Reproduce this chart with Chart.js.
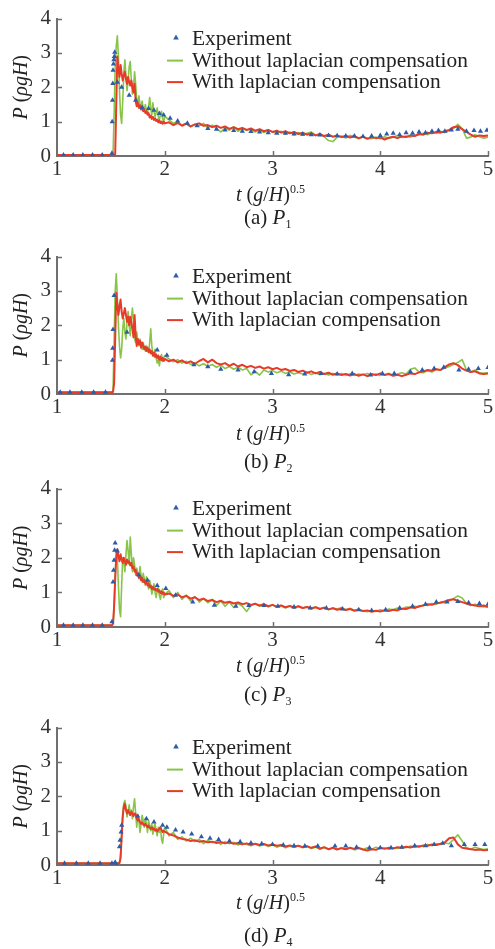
<!DOCTYPE html>
<html>
<head>
<meta charset="utf-8">
<script src="https://cdn.jsdelivr.net/npm/chart.js@4.4.1/dist/chart.umd.min.js"></script>
<style>
  html, body { margin: 0; padding: 0; background: #fff; }
  #wrap { position: relative; width: 495px; height: 949px; overflow: hidden; background: #fff; }
  .panel { position: absolute; left: 0; width: 495px; }
</style>
</head>
<body>
<div id="wrap">
  <div class="panel" style="top:0px"><canvas id="pa" width="495" height="245"></canvas></div>
  <div class="panel" style="top:238px"><canvas id="pb" width="495" height="245"></canvas></div>
  <div class="panel" style="top:470px"><canvas id="pc" width="495" height="245"></canvas></div>
  <div class="panel" style="top:709px"><canvas id="pd" width="495" height="240"></canvas></div>
</div>
<script>
// ---- shared time grid for the two simulated pressure curves, t (g/H)^0.5 ----
const tLine = [
  1.00,1.10,1.20,1.30,1.40,1.50,
  1.51,1.52,1.53,1.54,1.55,1.56,1.57,1.58,1.59,1.60,
  1.61,1.62,1.63,1.64,1.65,1.66,1.67,1.68,1.69,1.70,
  1.71,1.72,1.73,1.74,1.75,1.76,1.77,1.78,1.79,1.80,
  1.81,1.82,1.83,1.84,1.85,1.86,1.87,1.88,1.89,1.90,
  1.91,1.92,1.93,1.94,1.95,1.96,1.97,1.98,1.99,2.00,
  2.04,2.08,2.12,2.16,2.20,2.24,2.28,2.32,2.36,2.40,
  2.44,2.48,2.52,2.56,2.60,2.64,2.68,2.72,2.76,2.80,
  2.84,2.88,2.92,2.96,3.00,3.04,3.08,3.12,3.16,3.20,
  3.24,3.28,3.32,3.36,3.40,3.44,3.48,3.52,3.56,3.60,
  3.64,3.68,3.72,3.76,3.80,3.84,3.88,3.92,3.96,4.00,
  4.04,4.08,4.12,4.16,4.20,4.24,4.28,4.32,4.36,4.40,
  4.44,4.48,4.52,4.56,4.60,4.64,4.68,4.72,4.76,4.80,
  4.84,4.88,4.92,4.96,5.00
];

// ---- (a) P1 ----
const expT_a = [1.06,1.15,1.24,1.33,1.42,1.51,1.512,1.515,1.518,1.52,1.524,1.528,1.532,1.536,
  1.56,1.60,1.67,1.73,1.79,1.85,1.90,1.95,1.99,2.05,2.12,2.21,2.30,2.40,
  2.48,2.56,2.64,2.72,2.80,2.88,2.96,3.04,3.12,3.20,3.28,3.36,3.44,3.52,3.60,3.68,3.76,3.84,3.92,4.00,
  4.06,4.12,4.18,4.24,4.30,4.36,4.42,4.48,4.54,4.60,4.66,4.72,4.80,4.87,4.93,4.99];
const expP_a = [0.03,0.03,0.03,0.03,0.03,0.08,1.00,1.62,2.11,2.50,2.68,2.80,2.90,3.02,
  2.15,2.00,1.77,1.62,1.41,1.38,1.33,1.24,1.19,1.10,1.02,0.95,0.88,0.80,
  0.78,0.76,0.74,0.72,0.71,0.70,0.68,0.66,0.66,0.64,0.63,0.62,0.61,0.60,0.59,0.58,0.58,0.57,0.58,0.60,
  0.64,0.66,0.62,0.68,0.66,0.70,0.68,0.72,0.74,0.72,0.76,0.78,0.72,0.74,0.72,0.75];
const without_a = [
  0.03,0.03,0.03,0.03,0.03,0.03,
  0.03,0.05,1.20,2.60,3.20,3.50,2.90,1.90,1.20,0.95,
  1.60,2.40,2.80,2.30,1.90,2.20,2.60,2.75,2.20,1.80,
  2.00,2.45,2.10,1.60,1.55,1.75,1.50,1.45,1.60,1.40,
  1.35,1.50,1.30,1.25,1.45,1.70,1.40,1.20,1.55,1.30,
  1.15,1.25,1.40,1.15,1.05,1.20,1.30,1.10,1.00,1.15,
  1.05,0.95,1.00,0.90,0.95,0.85,0.92,0.88,0.95,0.82,
  0.90,0.80,0.70,0.82,0.75,0.85,0.72,0.80,0.75,0.78,
  0.70,0.76,0.68,0.74,0.70,0.66,0.72,0.64,0.70,0.62,
  0.68,0.60,0.66,0.70,0.60,0.64,0.56,0.45,0.42,0.55,
  0.58,0.52,0.60,0.55,0.50,0.56,0.52,0.50,0.55,0.50,
  0.56,0.52,0.55,0.60,0.54,0.58,0.55,0.60,0.62,0.66,
  0.62,0.70,0.66,0.72,0.68,0.74,0.80,0.92,0.80,0.52,
  0.55,0.62,0.56,0.52,0.55
];
const with_a = [
  0.03,0.03,0.03,0.03,0.03,0.03,
  0.03,0.03,0.03,0.05,1.50,2.90,2.55,2.30,2.65,2.40,
  2.20,2.35,2.45,2.25,2.10,2.30,2.15,2.05,2.20,2.00,
  1.85,2.10,1.60,1.45,1.55,1.40,1.48,1.35,1.42,1.30,
  1.36,1.25,1.30,1.20,1.25,1.12,1.18,1.08,1.14,1.05,
  1.10,1.02,1.06,0.98,1.04,0.96,1.00,0.94,1.00,0.95,
  0.98,0.90,0.96,0.88,0.94,0.86,0.92,0.95,0.88,0.90,
  0.84,0.88,0.82,0.86,0.79,0.84,0.78,0.82,0.76,0.80,
  0.74,0.78,0.72,0.76,0.70,0.74,0.68,0.72,0.66,0.70,
  0.64,0.68,0.62,0.66,0.60,0.64,0.58,0.62,0.56,0.60,
  0.55,0.59,0.54,0.58,0.52,0.56,0.50,0.55,0.52,0.54,
  0.48,0.53,0.56,0.52,0.57,0.55,0.60,0.58,0.64,0.62,
  0.68,0.66,0.70,0.68,0.72,0.76,0.84,0.86,0.78,0.70,
  0.62,0.56,0.60,0.58,0.60
];

// ---- (b) P2 ----
const expT_b = [1.03,1.12,1.23,1.34,1.45,1.515,1.517,1.52,1.53,
  1.65,1.93,2.02,2.27,2.40,2.52,2.68,2.83,2.99,3.15,
  3.30,3.45,3.60,3.74,3.91,4.02,4.13,4.28,4.39,4.50,
  4.59,4.73,4.82,4.91,5.00];
const expP_b = [0.05,0.05,0.05,0.05,0.05,0.98,1.33,1.88,2.87,
  1.80,1.28,1.13,0.85,0.79,0.72,0.70,0.65,0.60,0.56,
  0.58,0.60,0.58,0.60,0.55,0.60,0.60,0.65,0.70,0.74,
  0.78,0.70,0.72,0.74,0.77];
const without_b = [
  0.05,0.05,0.05,0.05,0.05,0.05,
  0.05,0.10,1.50,3.00,3.50,2.80,2.00,1.40,1.05,1.30,
  1.90,2.20,1.80,1.60,2.10,2.40,2.00,1.70,2.20,2.50,
  2.10,1.60,1.50,1.80,1.55,1.40,1.60,1.45,1.30,1.50,
  1.35,1.25,1.40,1.30,1.20,1.50,1.90,1.40,1.10,1.20,
  1.30,1.05,0.90,1.00,0.82,1.05,1.15,0.95,1.05,1.12,
  1.02,0.94,1.00,0.90,0.95,0.86,0.90,0.82,0.88,0.80,
  0.86,0.78,0.84,0.74,0.80,0.72,0.78,0.70,0.74,0.56,
  0.66,0.55,0.70,0.64,0.68,0.62,0.66,0.60,0.64,0.58,
  0.62,0.58,0.63,0.57,0.62,0.56,0.60,0.55,0.60,0.56,
  0.60,0.55,0.58,0.54,0.58,0.56,0.60,0.55,0.58,0.54,
  0.57,0.60,0.55,0.58,0.62,0.58,0.72,0.76,0.64,0.62,
  0.68,0.64,0.72,0.70,0.76,0.80,0.86,0.92,1.00,0.70,
  0.64,0.70,0.62,0.60,0.62
];
const with_b = [
  0.05,0.05,0.05,0.05,0.05,0.05,
  0.05,0.06,0.30,1.60,2.95,2.60,2.30,2.55,2.75,2.40,
  2.20,2.35,2.50,2.30,2.10,2.25,2.00,2.25,2.10,1.90,
  1.65,2.30,1.70,1.40,1.60,1.45,1.55,1.35,1.50,1.40,
  1.30,1.38,1.25,1.35,1.22,1.30,1.18,1.25,1.12,1.20,
  1.08,1.15,1.05,1.12,1.00,1.08,0.98,1.05,0.96,1.02,
  0.95,1.00,0.92,0.98,0.90,0.95,0.88,0.96,1.02,0.92,
  1.00,0.90,0.86,0.90,0.82,0.88,0.80,0.85,0.78,0.82,
  0.76,0.80,0.74,0.78,0.72,0.76,0.70,0.73,0.67,0.70,
  0.64,0.68,0.62,0.66,0.60,0.64,0.58,0.62,0.56,0.60,
  0.55,0.58,0.54,0.58,0.53,0.57,0.52,0.58,0.55,0.60,
  0.55,0.58,0.53,0.56,0.52,0.56,0.60,0.58,0.63,0.66,
  0.70,0.68,0.72,0.70,0.78,0.86,0.90,0.84,0.74,0.68,
  0.64,0.66,0.60,0.58,0.60
];

// ---- (c) P3 ----
const expT_c = [1.06,1.15,1.24,1.33,1.42,1.51,1.52,1.525,1.53,1.535,1.54,1.56,
  1.76,1.84,1.93,2.01,2.10,2.26,2.46,2.66,
  2.78,2.92,3.05,3.20,3.35,3.50,3.65,3.80,3.92,4.05,
  4.18,4.30,4.42,4.52,4.62,4.72,4.82,4.92,5.00];
const expP_c = [0.05,0.05,0.05,0.05,0.05,0.15,1.30,1.64,1.93,2.22,2.43,2.20,
  1.50,1.35,1.20,1.11,0.92,0.72,0.63,0.60,
  0.62,0.62,0.60,0.58,0.55,0.55,0.52,0.50,0.48,0.50,
  0.55,0.60,0.66,0.72,0.72,0.74,0.70,0.68,0.66];
const without_c = [
  0.05,0.05,0.05,0.05,0.05,0.05,
  0.05,0.08,0.50,1.50,2.20,2.00,1.20,0.50,0.30,1.20,
  2.00,1.90,1.60,2.10,2.50,2.20,1.80,2.60,2.10,1.60,
  2.00,1.80,1.50,1.70,1.55,1.40,1.75,1.50,1.30,1.55,
  1.40,1.20,1.45,1.30,1.10,1.35,1.20,0.95,1.10,1.25,
  1.00,0.85,1.05,1.15,0.90,0.80,1.00,1.10,0.85,0.95,
  1.05,0.85,1.00,0.80,0.92,0.75,0.88,0.72,0.82,0.70,
  0.80,0.62,0.75,0.60,0.72,0.56,0.68,0.60,0.45,0.62,
  0.68,0.60,0.66,0.58,0.64,0.57,0.62,0.55,0.60,0.54,
  0.60,0.55,0.58,0.52,0.58,0.53,0.56,0.50,0.55,0.52,
  0.56,0.50,0.54,0.48,0.52,0.46,0.44,0.48,0.45,0.50,
  0.47,0.52,0.50,0.55,0.52,0.58,0.56,0.60,0.58,0.64,
  0.62,0.68,0.66,0.72,0.70,0.76,0.82,0.90,0.84,0.68,
  0.62,0.66,0.60,0.58,0.60
];
const with_c = [
  0.05,0.05,0.05,0.05,0.05,0.05,
  0.05,0.10,0.60,1.40,2.00,2.25,2.05,1.90,2.10,1.95,
  1.85,2.00,1.90,1.80,1.95,1.85,1.90,1.78,1.85,1.70,
  1.75,1.60,1.65,1.50,1.55,1.42,1.48,1.35,1.42,1.30,
  1.36,1.25,1.30,1.20,1.26,1.15,1.20,1.10,1.16,1.08,
  1.12,1.05,1.10,1.02,1.06,0.98,1.03,0.96,1.00,0.94,
  0.97,0.90,0.94,0.86,0.90,0.82,0.86,0.78,0.82,0.75,
  0.78,0.72,0.76,0.70,0.73,0.68,0.71,0.66,0.69,0.64,
  0.67,0.62,0.66,0.60,0.64,0.59,0.62,0.57,0.61,0.56,
  0.60,0.55,0.58,0.54,0.57,0.52,0.56,0.51,0.54,0.50,
  0.53,0.49,0.52,0.47,0.50,0.46,0.48,0.44,0.47,0.45,
  0.48,0.46,0.50,0.48,0.53,0.52,0.57,0.55,0.60,0.62,
  0.66,0.64,0.69,0.70,0.74,0.78,0.80,0.76,0.72,0.68,
  0.64,0.62,0.60,0.62,0.58
];

// ---- (d) P4 ----
const expT_d = [1.07,1.18,1.29,1.40,1.51,1.54,1.55,1.58,1.585,1.595,1.60,
  1.75,1.83,1.90,1.98,2.02,2.10,2.17,2.25,2.34,
  2.42,2.50,2.60,2.70,2.80,2.90,3.00,3.10,3.20,3.30,
  3.42,3.58,3.68,3.78,3.90,4.00,4.10,4.20,4.32,4.42,
  4.50,4.58,4.66,4.78,4.88,4.97];
const expP_d = [0.05,0.05,0.05,0.05,0.05,0.08,0.00,0.53,0.72,0.96,1.16,
  1.42,1.35,1.25,1.16,1.10,1.02,0.96,0.90,0.82,
  0.78,0.74,0.70,0.68,0.64,0.62,0.60,0.58,0.56,0.55,
  0.55,0.55,0.55,0.52,0.50,0.50,0.50,0.52,0.56,0.56,
  0.60,0.63,0.56,0.60,0.60,0.60];
const without_d = [
  0.05,0.05,0.05,0.05,0.05,0.05,
  0.05,0.05,0.05,0.05,0.05,0.05,0.06,0.08,0.30,0.90,
  1.50,1.80,1.88,1.70,1.40,1.55,1.75,1.45,1.60,1.35,
  1.70,1.93,1.50,1.10,1.45,1.30,0.95,1.20,1.45,1.30,
  1.10,1.35,1.20,0.95,1.30,1.15,1.00,1.20,0.90,1.10,
  1.20,1.00,0.85,1.10,0.95,1.10,0.75,0.63,0.90,1.10,
  0.85,0.95,0.75,0.82,0.70,0.78,0.68,0.75,0.62,0.72,
  0.65,0.70,0.60,0.68,0.62,0.66,0.58,0.64,0.60,0.56,
  0.62,0.55,0.60,0.54,0.58,0.52,0.57,0.50,0.55,0.52,
  0.56,0.50,0.54,0.48,0.52,0.46,0.50,0.45,0.50,0.46,
  0.50,0.46,0.50,0.44,0.48,0.45,0.50,0.46,0.52,0.48,
  0.50,0.46,0.50,0.48,0.52,0.50,0.55,0.52,0.56,0.54,
  0.60,0.56,0.62,0.60,0.64,0.62,0.74,0.88,0.70,0.50,
  0.46,0.52,0.48,0.45,0.47
];
const with_d = [
  0.05,0.05,0.05,0.05,0.05,0.05,
  0.05,0.05,0.05,0.05,0.05,0.05,0.05,0.06,0.20,0.80,
  1.40,1.70,1.78,1.60,1.50,1.60,1.52,1.45,1.55,1.50,
  1.42,1.50,1.48,1.35,1.30,1.34,1.25,1.20,1.24,1.18,
  1.15,1.20,1.14,1.10,1.15,1.08,1.05,1.10,1.04,1.06,
  1.00,1.04,0.98,1.02,1.06,1.10,1.02,0.96,1.00,0.97,
  0.90,0.86,0.80,0.76,0.74,0.70,0.72,0.68,0.70,0.66,
  0.68,0.64,0.67,0.63,0.66,0.62,0.64,0.60,0.63,0.59,
  0.62,0.58,0.61,0.57,0.60,0.56,0.58,0.54,0.57,0.53,
  0.56,0.52,0.55,0.50,0.54,0.48,0.52,0.46,0.50,0.45,
  0.49,0.46,0.50,0.47,0.50,0.45,0.42,0.46,0.44,0.50,
  0.47,0.50,0.48,0.52,0.50,0.53,0.51,0.55,0.53,0.57,
  0.56,0.60,0.58,0.62,0.66,0.78,0.80,0.60,0.50,0.48,
  0.46,0.44,0.45,0.43,0.44
];

// ---- axes and labels ----
const xTicks = [1, 2, 3, 4, 5];
const yTicks = [0, 1, 2, 3, 4];
const seriesNames = ['Experiment', 'Without laplacian compensation', 'With laplacian compensation'];
const panelLetters = ['a', 'b', 'c', 'd'];
const panelSubs = ['1', '2', '3', '4'];

// ---- styling ----
const SERIF = '"Liberation Serif", "Times New Roman", Times, serif';
const C_EXP = '#2c5ba8';
const C_WO = '#88c448';
const C_W = '#e63b28';
const C_AX = '#707070';
const C_TXT = '#222222';

function fontOf(size, italic) {
  return (italic ? 'italic ' : '') + size + 'px ' + SERIF;
}
function runsWidth(ctx, runs) {
  let w = 0;
  for (const r of runs) { ctx.font = fontOf(r.s || 20, r.i); w += ctx.measureText(r.t).width; }
  return w;
}
function drawRuns(ctx, runs, x, y) {
  for (const r of runs) {
    ctx.font = fontOf(r.s || 20, r.i);
    ctx.fillText(r.t, x, y + (r.dy || 0));
    x += ctx.measureText(r.t).width;
  }
  return x;
}

// inward tick marks, legend, axis titles and the panel caption
const decor = {
  id: 'decor',
  afterDraw(chart, args, o) {
    const { ctx, chartArea } = chart;
    const xs = chart.scales.x, ys = chart.scales.y;
    ctx.save();
    ctx.strokeStyle = C_AX;
    ctx.lineWidth = 1.5;
    ctx.beginPath();
    xTicks.slice(1).forEach(v => {
      const px = Math.round(xs.getPixelForValue(v)) + 0.5;
      ctx.moveTo(px, chartArea.bottom);
      ctx.lineTo(px, chartArea.bottom - 5);
    });
    yTicks.slice(1).forEach(v => {
      const py = Math.round(ys.getPixelForValue(v)) + 0.5;
      ctx.moveTo(chartArea.left, py);
      ctx.lineTo(chartArea.left + 5, py);
    });
    ctx.stroke();

    // legend
    const top = chartArea.top;
    const rows = [top + 26, top + 48, top + 69.5];
    const mx = 176, tx = 192;
    ctx.fillStyle = C_EXP;
    ctx.beginPath();
    ctx.moveTo(mx, rows[0] - 10);
    ctx.lineTo(mx + 2.8, rows[0] - 5.2);
    ctx.lineTo(mx - 2.8, rows[0] - 5.2);
    ctx.closePath();
    ctx.fill();
    ctx.lineWidth = 2;
    ctx.strokeStyle = C_WO;
    ctx.beginPath(); ctx.moveTo(167, rows[1] - 6); ctx.lineTo(183, rows[1] - 6); ctx.stroke();
    ctx.strokeStyle = C_W;
    ctx.beginPath(); ctx.moveTo(167, rows[2] - 6); ctx.lineTo(183, rows[2] - 6); ctx.stroke();
    ctx.fillStyle = C_TXT;
    ctx.textBaseline = 'alphabetic';
    ctx.textAlign = 'left';
    ctx.font = fontOf(21.4, false);
    seriesNames.forEach((n, i) => ctx.fillText(n, tx, rows[i]));

    // y-axis title, rotated
    const yRuns = [{ t: 'P', i: true }, { t: ' (' }, { t: 'ρgH', i: true }, { t: ')' }];
    ctx.save();
    ctx.translate(27, (chartArea.top + chartArea.bottom) / 2);
    ctx.rotate(-Math.PI / 2);
    drawRuns(ctx, yRuns, -runsWidth(ctx, yRuns) / 2, 0);
    ctx.restore();

    // x-axis title
    const xRuns = [{ t: 't', i: true }, { t: ' (' }, { t: 'g', i: true }, { t: '/' },
                   { t: 'H', i: true }, { t: ')' }, { t: '0.5', s: 12, dy: -8 }];
    drawRuns(ctx, xRuns, 236, chartArea.bottom + o.titleDy);

    // caption
    const cRuns = [{ t: '(' + o.letter + ') ', s: 21 }, { t: 'P', i: true, s: 21 }, { t: o.sub, s: 12, dy: 4 }];
    drawRuns(ctx, cRuns, 244, chartArea.bottom + o.capDy);
    ctx.restore();
  }
};

function pts(xs, ys) { return xs.map((x, i) => ({ x: x, y: ys[i] })); }

function makePanel(id, expT, expP, withoutP, withP, idx, bottom, titleDy, capDy) {
  const canvas = document.getElementById(id);
  const H = canvas.height;
  new Chart(canvas, {
    type: 'scatter',
    data: {
      datasets: [
        { label: seriesNames[0], data: pts(expT, expP), pointStyle: 'triangle', pointRadius: 3,
          backgroundColor: C_EXP, borderWidth: 0, showLine: false },
        { label: seriesNames[2], data: pts(tLine, withP), showLine: true, pointRadius: 0,
          borderColor: C_W, borderWidth: 2, tension: 0, borderJoinStyle: 'round' },
        { label: seriesNames[1], data: pts(tLine, withoutP), showLine: true, pointRadius: 0,
          borderColor: C_WO, borderWidth: 1.6, tension: 0, borderJoinStyle: 'round' }
      ]
    },
    options: {
      responsive: false,
      animation: false,
      devicePixelRatio: 1,
      layout: { padding: { left: 0, top: 18, right: 7, bottom: 0 } },
      plugins: {
        legend: { display: false },
        tooltip: { enabled: false },
        decor: { letter: panelLetters[idx], sub: panelSubs[idx], titleDy: titleDy, capDy: capDy }
      },
      scales: {
        x: {
          type: 'linear', min: xTicks[0], max: xTicks[xTicks.length - 1],
          afterBuildTicks: s => { s.ticks = xTicks.map(v => ({ value: v })); },
          afterFit: s => { s.height = H - bottom; },
          ticks: { font: { family: SERIF, size: 21 }, color: '#333', padding: 1, maxRotation: 0, autoSkip: false },
          grid: { display: true, drawOnChartArea: false, drawTicks: false },
          border: { display: true, color: C_AX, width: 2 }
        },
        y: {
          type: 'linear', min: yTicks[0], max: yTicks[yTicks.length - 1],
          afterBuildTicks: s => { s.ticks = yTicks.map(v => ({ value: v })); },
          afterFit: s => { s.width = 57; },
          ticks: { font: { family: SERIF, size: 21 }, color: '#333', padding: 6, autoSkip: false },
          grid: { display: true, drawOnChartArea: false, drawTicks: false },
          border: { display: true, color: C_AX, width: 2 }
        }
      }
    },
    plugins: [decor]
  });
}

makePanel('pa', expT_a, expP_a, without_a, with_a, 0, 156, 45, 68);
makePanel('pb', expT_b, expP_b, without_b, with_b, 1, 156, 46, 74);
makePanel('pc', expT_c, expP_c, without_c, with_c, 2, 157, 45, 74);
makePanel('pd', expT_d, expP_d, without_d, with_d, 3, 156, 44, 77);
</script>
</body>
</html>
